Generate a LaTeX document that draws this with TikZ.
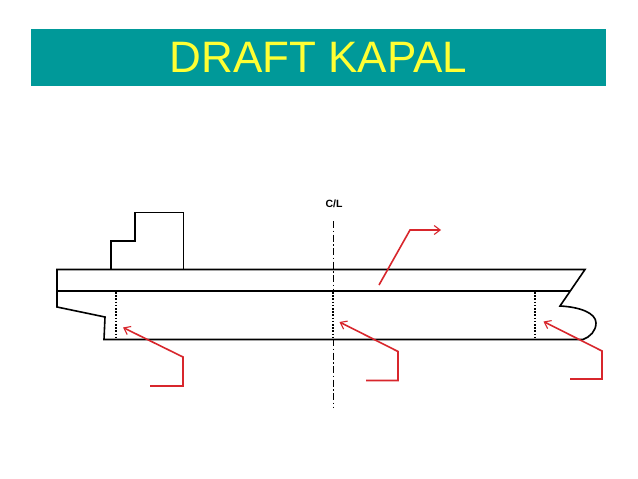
\documentclass[tikz,border=0pt]{standalone}
\usepackage{fontspec}
\setmainfont{Liberation Sans}
\usetikzlibrary{arrows.meta}
\definecolor{teal1}{HTML}{009999}
\definecolor{yel1}{HTML}{FFFF33}
\definecolor{red1}{HTML}{D8262C}
\tikzset{
  hull/.style={draw=black,line width=1.6pt,line join=miter},
  dots/.style={draw=black,line width=1.5pt,dash pattern=on 1.5pt off 1.7pt},
  cl/.style={draw=black,line width=0.9pt,dash pattern=on 7pt off 2.5pt on 1.5pt off 2.5pt},
  lead/.style={draw=red1,line width=1.6pt,-{Straight Barb[length=6pt,width=9pt,line width=1.1pt]}},
  banner/.style={fill=teal1,draw=none,minimum width=575pt,minimum height=57pt,inner sep=0pt,text=yel1,font=\fontsize{44}{44}\selectfont},
  cltext/.style={font=\bfseries\fontsize{10.5}{11}\selectfont,inner sep=0pt}
}
\begin{document}
\begin{tikzpicture}[x=1pt,y=-1pt]
\useasboundingbox (0,0) rectangle (638,479);
\fill[white] (0,0) rectangle (638,479);
\node[banner] (title) at (318.5,57.5) {DRAFT KAPAL};
\node[cltext] (cltxt) at (334,203.5) {C/L};
% hull
\draw[hull] (57,291) -- (57,269.5) -- (585,269.5) -- (560,306)
  .. controls (580,307) and (596,313) .. (596,323)
  .. controls (596,331) and (590,337) .. (583,339.5)
  -- (104,339.5) -- (105,317) -- (57,307) -- cycle;
\draw[hull] (56,291) -- (570,291);
\draw[hull] (111,269.5) -- (111,241) -- (135,241) -- (135,212.5) -- (183.5,212.5) -- (183.5,269.5);
% draft marks
\draw[dots] (116,292) -- (116,339);
\draw[dots] (333,292) -- (333,339);
\draw[dots] (535,292) -- (535,339);
% centre line
\draw[cl] (333,221) -- (333,291);
\draw[cl] (333,339) -- (333,407);
% leaders
\draw[lead] (150,386) -- (183,386) -- (183,357) -- (123,327.5);
\draw[lead] (366,380.5) -- (398,380.5) -- (398,351.5) -- (339.5,322);
\draw[lead] (570,379) -- (602,379) -- (602,351) -- (543.5,321.5);
\draw[lead] (379,285) -- (410,230) -- (441,230);
\end{tikzpicture}
\end{document}
